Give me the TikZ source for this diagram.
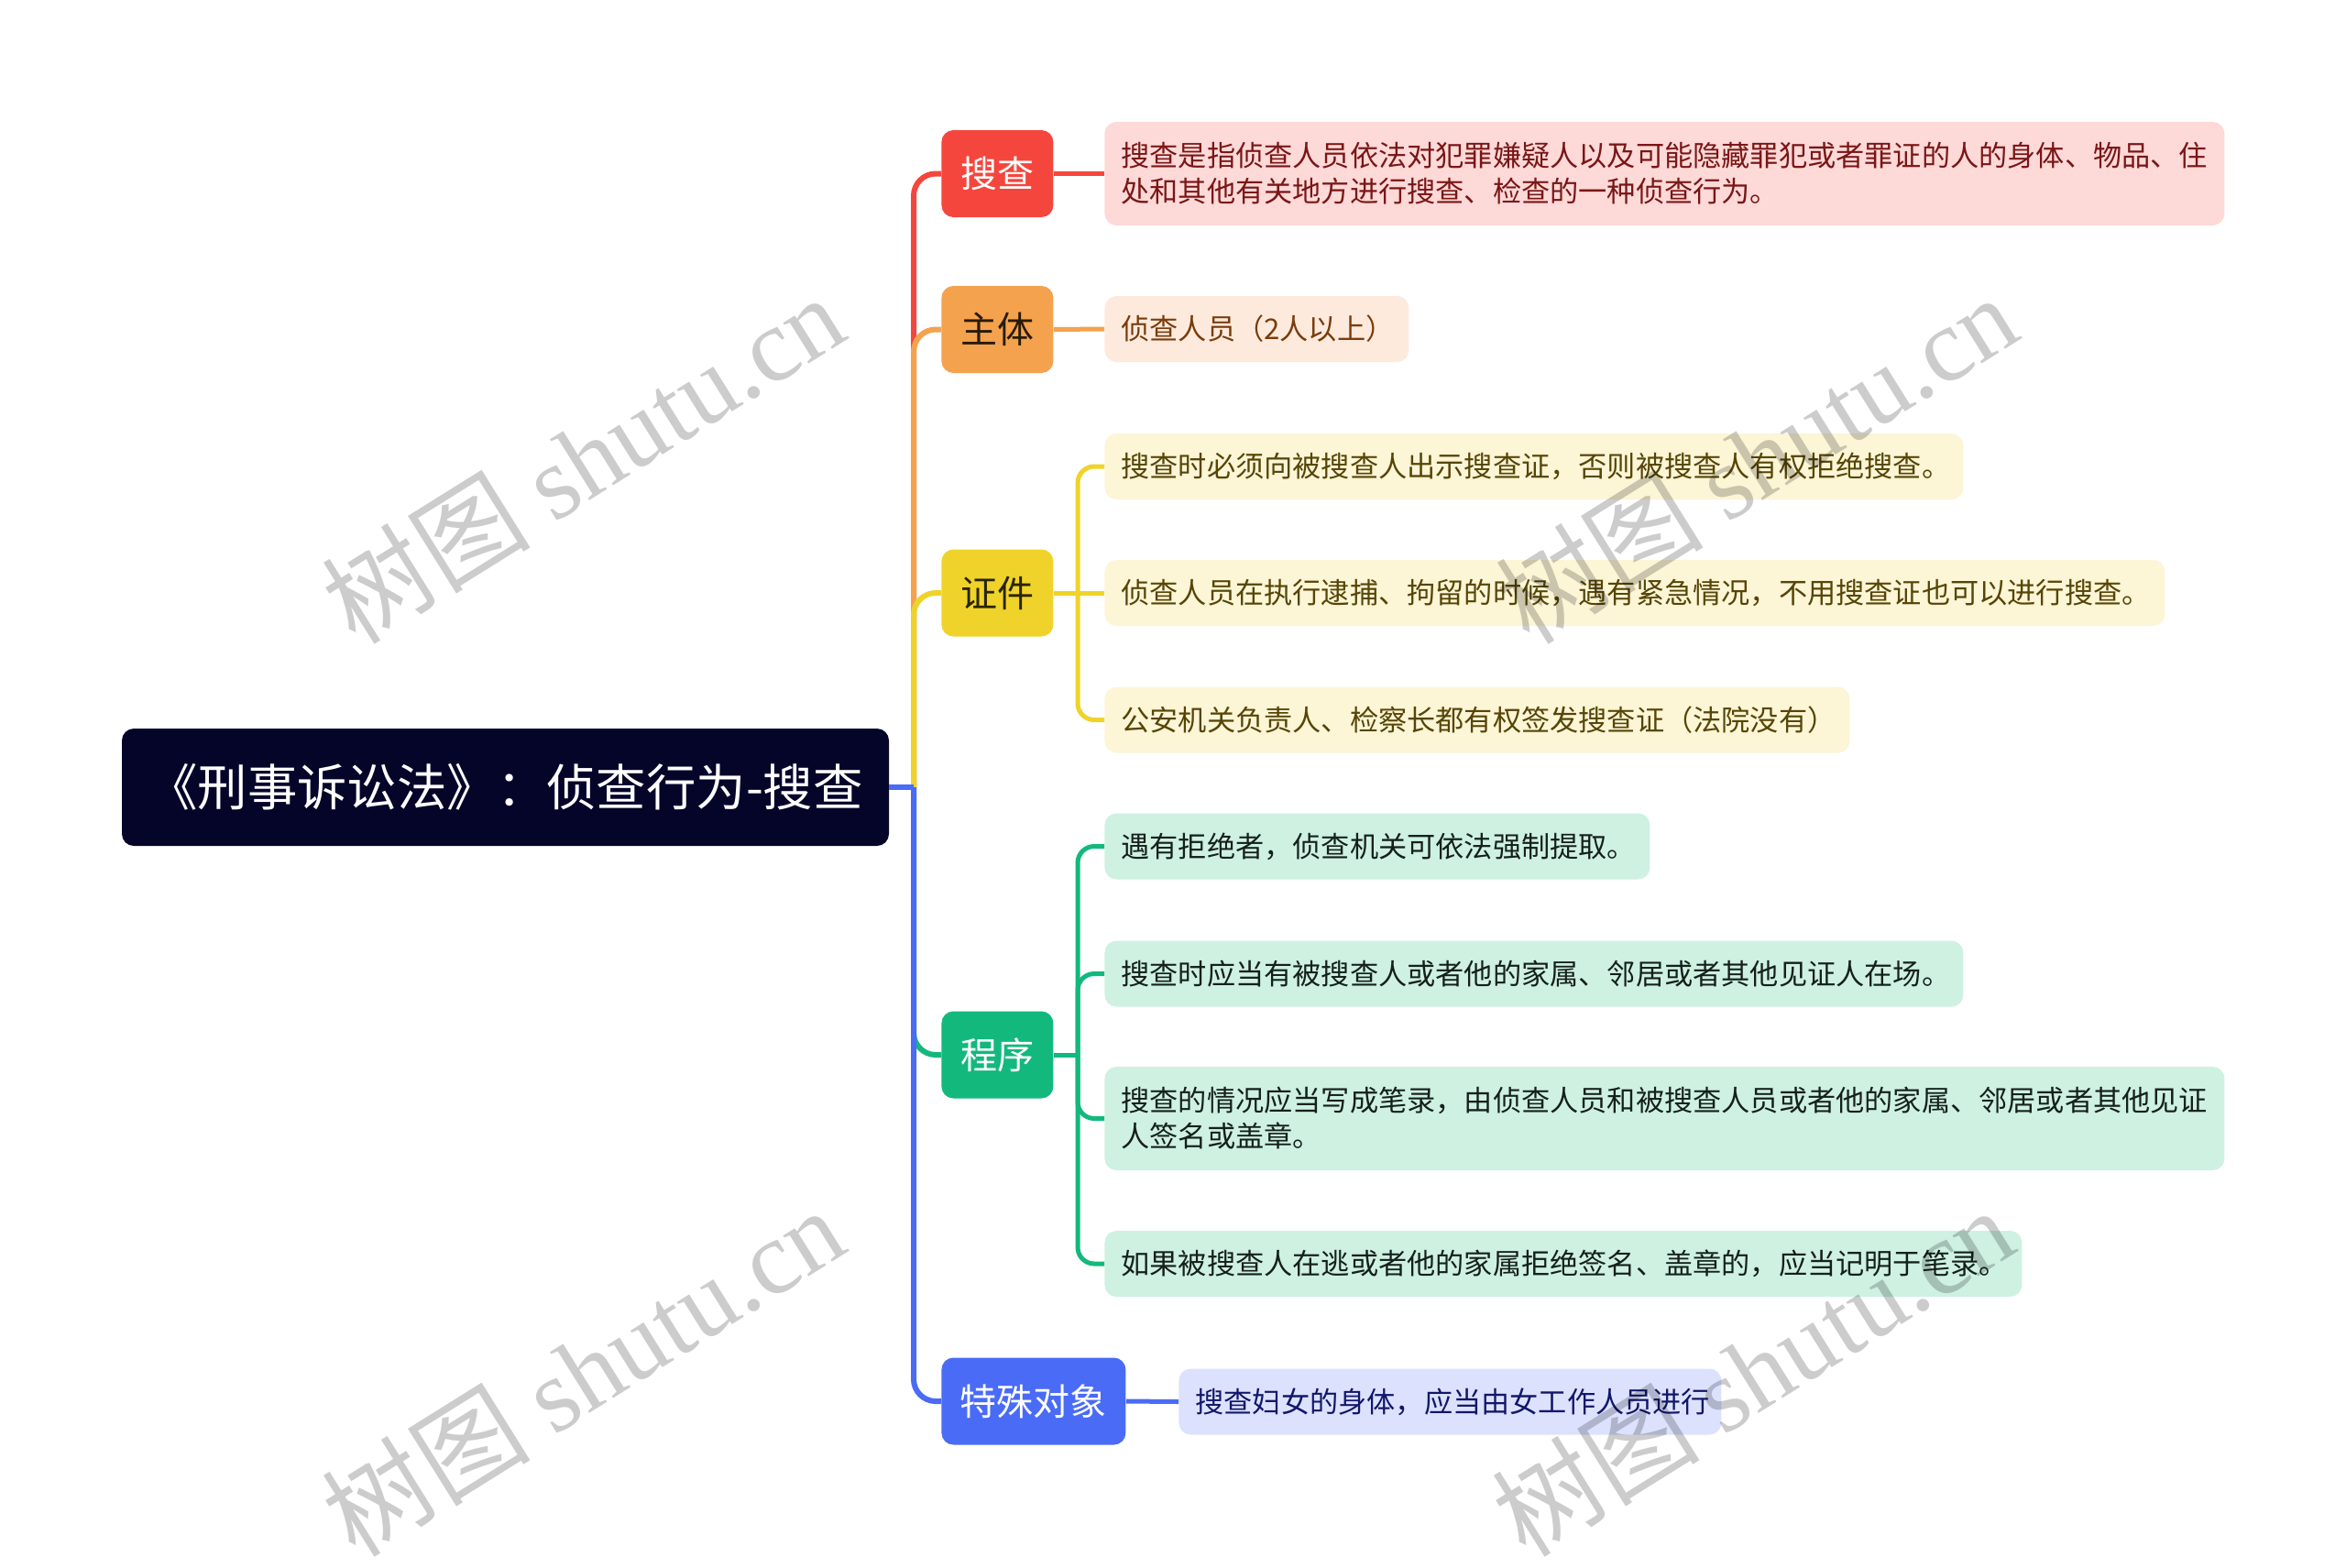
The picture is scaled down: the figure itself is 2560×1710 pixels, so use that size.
\documentclass[tikz,border=0pt]{standalone}
\usepackage{fontspec}
\setmainfont{Noto Sans CJK SC}
\newfontfamily\wmserif{Liberation Serif}
\definecolor{rootc}{HTML}{05052A}
\definecolor{redB}{HTML}{F5463D}
\definecolor{redL}{HTML}{FDD9D8}
\definecolor{redT}{HTML}{7A1616}
\definecolor{orgB}{HTML}{F4A24E}
\definecolor{orgL}{HTML}{FDEADD}
\definecolor{orgT}{HTML}{7A3C0A}
\definecolor{orgBT}{HTML}{2A1A05}
\definecolor{yelB}{HTML}{F0D32A}
\definecolor{yelL}{HTML}{FCF5D6}
\definecolor{yelT}{HTML}{564506}
\definecolor{yelBT}{HTML}{2A2400}
\definecolor{grnB}{HTML}{13B97C}
\definecolor{grnL}{HTML}{CEF1E2}
\definecolor{grnT}{HTML}{15201B}
\definecolor{bluB}{HTML}{4A6BF6}
\definecolor{bluL}{HTML}{DCE2FD}
\definecolor{bluT}{HTML}{12176A}
\begin{document}
\begin{tikzpicture}[x=0.5pt,y=-0.5pt,
  rootbox/.style={fill=rootc,text=white,rounded corners=6.5pt,minimum width=418.5pt,minimum height=64pt,inner sep=0pt,font=\fontsize{27.2pt}{32pt}\selectfont},
  brbox/.style={rounded corners=6.5pt,minimum width=61pt,minimum height=47.5pt,inner sep=0pt,anchor=west,font=\fontsize{20pt}{24pt}\selectfont},
  leafbox/.style={rounded corners=6.5pt,anchor=west,align=left,inner xsep=9pt,inner ysep=4pt,minimum height=36pt,font=\fontsize{15.6pt}{19.5pt}\selectfont},
  mainline/.style={line width=3pt},
  subline/.style={line width=2.5pt},
  wm/.style={text=black,text opacity=0.2,rotate=32,font=\fontsize{57pt}{60pt}\selectfont}
]
\useasboundingbox[fill=white] (0,0) rectangle (2560,1710);

% root
\node[rootbox] (root) at (551.5,859) {《刑事诉讼法》：侦查行为-搜查};

% branches
\node[brbox,fill=redB,text=white] (b1) at (1027,189.5) {搜查};
\node[brbox,fill=orgB,text=orgBT] (b2) at (1027,359.5) {主体};
\node[brbox,fill=yelB,text=yelBT] (b3) at (1027,647) {证件};
\node[brbox,fill=grnB,text=white] (b4) at (1027,1151) {程序};
\node[brbox,fill=bluB,text=white,minimum width=100.5pt] (b5) at (1027,1529) {特殊对象};

% leaves
\node[leafbox,fill=redL,text=redT,text width=593pt,minimum height=56.5pt] (l1) at (1205,189.5) {搜查是指侦查人员依法对犯罪嫌疑人以及可能隐藏罪犯或者罪证的人的身体、物品、住\\处和其他有关地方进行搜查、检查的一种侦查行为。};
\node[leafbox,fill=orgL,text=orgT,text width=148pt] (l2) at (1205,359) {侦查人员（2人以上）};
\node[leafbox,fill=yelL,text=yelT,text width=450.5pt] (l3a) at (1205,509) {搜查时必须向被搜查人出示搜查证，否则被搜查人有权拒绝搜查。};
\node[leafbox,fill=yelL,text=yelT,text width=560.5pt] (l3b) at (1205,647) {侦查人员在执行逮捕、拘留的时候，遇有紧急情况，不用搜查证也可以进行搜查。};
\node[leafbox,fill=yelL,text=yelT,text width=388.5pt] (l3c) at (1205,785.5) {公安机关负责人、检察长都有权签发搜查证（法院没有）};
\node[leafbox,fill=grnL,text=grnT,text width=279.5pt] (l4a) at (1205,923.5) {遇有拒绝者，侦查机关可依法强制提取。};
\node[leafbox,fill=grnL,text=grnT,text width=450.5pt] (l4b) at (1205,1062.5) {搜查时应当有被搜查人或者他的家属、邻居或者其他见证人在场。};
\node[leafbox,fill=grnL,text=grnT,text width=593pt,minimum height=56.5pt] (l4c) at (1205,1220.5) {搜查的情况应当写成笔录，由侦查人员和被搜查人员或者他的家属、邻居或者其他见证\\人签名或盖章。};
\node[leafbox,fill=grnL,text=grnT,text width=482.5pt] (l4d) at (1205,1379) {如果被搜查人在逃或者他的家属拒绝签名、盖章的，应当记明于笔录。};
\node[leafbox,fill=bluL,text=bluT,text width=278pt] (l5) at (1286,1529.5) {搜查妇女的身体，应当由女工作人员进行};

% connectors root -> branches
\coordinate (spine) at (997,859);
\draw[mainline,redB,rounded corners=12pt] (spine) |- (b1.west);
\draw[mainline,orgB,rounded corners=12pt] (spine) |- (b2.west);
\draw[mainline,yelB,rounded corners=12pt] (spine) |- (b3.west);
\draw[mainline,grnB,rounded corners=12pt] (spine) |- (b4.west);
\draw[mainline,bluB,rounded corners=12pt] (spine) |- (b5.west);
\draw[mainline,bluB] (root.east) -- (spine);

% branch -> leaves
\draw[subline,redB] (b1.east) -- (l1.west);
\draw[subline,orgB] (b2.east) -- (l2.west);
\coordinate (f3) at (1176,647);
\draw[subline,yelB] (b3.east) -- (f3);
\draw[subline,yelB,rounded corners=9pt] (f3) |- (l3a.west);
\draw[subline,yelB] (f3) -- (l3b.west);
\draw[subline,yelB,rounded corners=9pt] (f3) |- (l3c.west);
\coordinate (f4) at (1176,1151);
\draw[subline,grnB] (b4.east) -- (f4);
\draw[subline,grnB,rounded corners=9pt] (f4) |- (l4a.west);
\draw[subline,grnB,rounded corners=9pt] (f4) |- (l4b.west);
\draw[subline,grnB,rounded corners=9pt] (f4) |- (l4c.west);
\draw[subline,grnB,rounded corners=9pt] (f4) |- (l4d.west);
\draw[subline,bluB] (b5.east) -- (l5.west);

% watermarks
\node[wm] (wm1) at (636,500) {树图 {\wmserif shutu.cn}};
\node[wm] (wm2) at (1916,500) {树图 {\wmserif shutu.cn}};
\node[wm] (wm3) at (636,1496) {树图 {\wmserif shutu.cn}};
\node[wm] (wm4) at (1912,1496) {树图 {\wmserif shutu.cn}};
\end{tikzpicture}
\end{document}
